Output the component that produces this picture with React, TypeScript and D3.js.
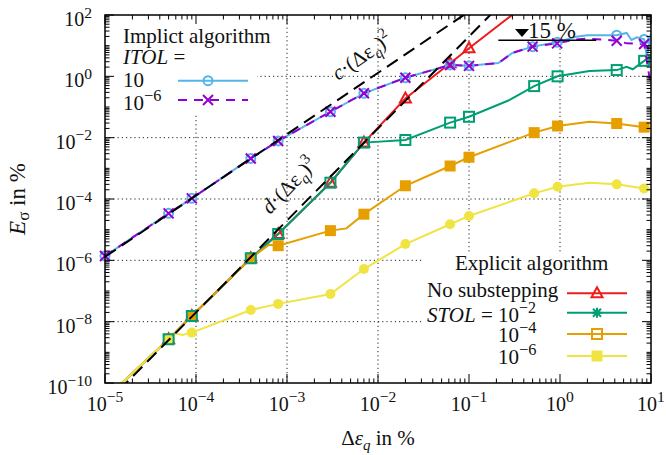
import * as d3 from "d3";

type Row = [number, number, number]; // [Δε_q, E_σ, 1 = marker shown]

// ---- axes -------------------------------------------------------------
const X_TICKS = [1e-5, 1e-4, 1e-3, 1e-2, 1e-1, 1e0, 1e1];
const X_TICK_EXP = ["−5", "−4", "−3", "−2", "−1", "0", "1"];
const Y_TICKS = [1e2, 1e0, 1e-2, 1e-4, 1e-6, 1e-8, 1e-10];
const Y_TICK_EXP = ["2", "0", "−2", "−4", "−6", "−8", "−10"];
const X_GRID = [1e-4, 1e-3, 1e-2, 1e-1, 1e0];
const Y_GRID = [1e0, 1e-2, 1e-4, 1e-6, 1e-8];

// ---- implicit algorithm ------------------------------------------------
const IMPL_ITOL10: Row[] = [
  [1e-5, 1.39e-6, 1], [5e-5, 3.4e-5, 1], [9e-5, 1.05e-4, 1], [4e-4, 2.1e-3, 1],
  [8e-4, 7.8e-3, 1], [3e-3, 0.07, 1], [7e-3, 0.28, 1], [0.02, 0.9, 1],
  [0.062, 2.35, 1], [0.1, 2.2, 1], [0.21, 2.7, 0], [0.3, 5.8, 0],
  [0.5, 9.3, 1], [0.93, 13, 1], [1.5, 19.5, 0], [2.0, 22, 0],
  [4.2, 22, 1], [5.4, 26, 0], [6.1, 15.3, 0], [7.0, 18.7, 0],
  [8.4, 16, 1], [9.0, 4.4, 0], [10, 26, 0],
];
const IMPL_ITOL6: Row[] = [
  [1e-5, 1.39e-6, 1], [5e-5, 3.4e-5, 1], [9e-5, 1.05e-4, 1], [4e-4, 2.1e-3, 1],
  [8e-4, 7.8e-3, 1], [3e-3, 0.07, 1], [7e-3, 0.28, 1], [0.02, 0.9, 1],
  [0.062, 2.35, 1], [0.1, 2.2, 1], [0.21, 2.7, 0], [0.3, 5.8, 0],
  [0.5, 9.3, 1], [0.93, 11.9, 1], [1.5, 16, 0], [2.0, 17, 0],
  [4.2, 14.5, 1], [5.4, 11.9, 0], [8.4, 11.3, 1], [10, 0.45, 0],
];

// ---- explicit algorithm ------------------------------------------------
const EXPL_NOSUB: Row[] = [
  [1e-5, 3e-11, 0], [5e-5, 2.67e-9, 1], [9e-5, 1.53e-8, 1], [4e-4, 1.17e-6, 1],
  [8e-4, 7.2e-6, 1], [3e-3, 3.4e-4, 1], [7e-3, 6.9e-3, 1], [0.02, 0.19, 1],
  [0.062, 2.66, 1], [0.1, 8.2, 1], [0.5, 330, 0],
];
const EXPL_STOL2: Row[] = [
  [1e-5, 3e-11, 0], [5e-5, 2.67e-9, 1], [9e-5, 1.53e-8, 1], [4e-4, 1.17e-6, 1],
  [8e-4, 7.2e-6, 1], [3e-3, 3.4e-4, 1], [7e-3, 6.9e-3, 1], [0.02, 8.4e-3, 1],
  [0.062, 0.031, 1], [0.1, 0.048, 1], [0.28, 0.17, 0], [0.52, 0.48, 1],
  [0.94, 1.0, 1], [2.1, 1.5, 0], [4.2, 1.6, 1], [5.4, 2.06, 0],
  [6.3, 1.7, 0], [8.4, 3.2, 1], [10, 4.4, 0],
];
const EXPL_STOL4: Row[] = [
  [1e-5, 3e-11, 0], [5e-5, 2.67e-9, 1], [9e-5, 1.53e-8, 1], [4e-4, 1.17e-6, 1],
  [6.3e-4, 3.2e-6, 0], [8e-4, 3e-6, 1], [3e-3, 9.3e-6, 1], [4.5e-3, 1.1e-5, 0],
  [7e-3, 3.2e-5, 1], [0.02, 2.7e-4, 1], [0.062, 1.19e-3, 1], [0.1, 2.3e-3, 1],
  [0.52, 0.0146, 1], [0.94, 0.024, 1], [2.1, 0.033, 0], [4.2, 0.029, 1],
  [8.4, 0.022, 1], [10, 0.019, 0],
];
const EXPL_STOL6: Row[] = [
  [1e-5, 3e-11, 0], [5e-5, 2.67e-9, 1], [5.9e-5, 4.2e-9, 0], [7.1e-5, 3.7e-9, 0],
  [9e-5, 4.4e-9, 1], [4e-4, 2.4e-8, 1], [8e-4, 3.8e-8, 1], [3e-3, 8e-8, 1],
  [7e-3, 5.2e-7, 1], [0.02, 3.4e-6, 1], [0.062, 1.5e-5, 1], [0.1, 2.8e-5, 1],
  [0.52, 1.53e-4, 1], [0.94, 2.5e-4, 1], [2.1, 3.4e-4, 0], [4.2, 3.0e-4, 1],
  [8.4, 2.2e-4, 1], [10, 2.0e-4, 0],
];

// fitted slopes (end points)
const C_FIT: [number, number][] = [[1e-5, 1.3e-6], [0.1, 130]];
const D_FIT: [number, number][] = [[1e-5, 2e-11], [0.2, 159]];
// 15 % limit marker
const LIMIT_X = [0.21, 2.5];
const LIMIT_Y = 15;

const BLUE = "#56b4e9";
const PURPLE = "#9400d3";
const RED = "#ee1c1c";
const GREEN = "#009e73";
const ORANGE = "#e69f00";
const YELLOW = "#f0e442";
const FONT = "'Liberation Serif', 'Times New Roman', serif";

const W = 666, H = 455;
const L = 105, R = 651, T = 15, B = 383;

const x = d3.scaleLog().domain([1e-5, 1e1]).range([L, R]);
const y = d3.scaleLog().domain([1e-10, 1e2]).range([B, T]);

const line = d3.line<Row>().x(d => x(d[0])).y(d => y(d[1]));
const fitLine = d3.line<[number, number]>().x(d => x(d[0])).y(d => y(d[1]));

type Kind = "circle" | "cross" | "tri" | "square" | "squareFill" | "dot" | "star";

function Marker({ kind, cx, cy, color }: { kind: Kind; cx: number; cy: number; color: string }) {
  const sw = 2;
  switch (kind) {
    case "circle":
      return <circle cx={cx} cy={cy} r={4.5} fill="none" stroke={color} strokeWidth={sw} />;
    case "cross":
      return (
        <path d={`M${cx - 5},${cy - 5}L${cx + 5},${cy + 5}M${cx - 5},${cy + 5}L${cx + 5},${cy - 5}`}
          stroke={color} strokeWidth={sw} />
      );
    case "star":
      return (
        <path d={`M${cx - 5},${cy}L${cx + 5},${cy}M${cx},${cy - 5}L${cx},${cy + 5}M${cx - 4},${cy - 4}L${cx + 4},${cy + 4}M${cx - 4},${cy + 4}L${cx + 4},${cy - 4}`}
          stroke={color} strokeWidth={sw} />
      );
    case "tri":
      return <path d={`M${cx},${cy - 6}L${cx + 5.5},${cy + 4}L${cx - 5.5},${cy + 4}Z`} fill="none" stroke={color} strokeWidth={sw} />;
    case "square":
      return <rect x={cx - 5} y={cy - 5} width={10} height={10} fill="none" stroke={color} strokeWidth={sw} />;
    case "squareFill":
      return <rect x={cx - 5.5} y={cy - 5.5} width={11} height={11} fill={color} />;
    case "dot":
      return <circle cx={cx} cy={cy} r={5} fill={color} />;
  }
}

function Marks({ data, kind, color }: { data: Row[]; kind: Kind; color: string }) {
  return (
    <g>
      {data.filter(d => d[2] === 1).map((d, i) => (
        <Marker key={i} kind={kind} cx={x(d[0])} cy={y(d[1])} color={color} />
      ))}
    </g>
  );
}

function Pow10({ px, py, exp, anchor = "start", size = 20 }: { px: number; py: number; exp: string; anchor?: string; size?: number }) {
  return (
    <text x={px} y={py} textAnchor={anchor} fontSize={size}>
      10<tspan dy={-size * 0.42} fontSize={size * 0.78}>{exp}</tspan>
    </text>
  );
}

export default function App() {
  const xMinor = d3.range(-5, 1).flatMap(k => d3.range(2, 10).map(m => m * 10 ** k));
  const yMinor = [
    ...d3.range(-10, 2).flatMap(k => d3.range(2, 10).map(m => m * 10 ** k)),
    ...d3.range(-9, 2, 2).map(k => 10 ** k),
  ];

  return (
    <svg width={W} height={H} style={{ position: "absolute", left: 0, top: 0, background: "#fff" }}
      fontFamily={FONT} fill="#111">
      <defs>
        <clipPath id="plot">
          <rect x={L} y={T} width={R - L} height={B - T} />
        </clipPath>
      </defs>

      {/* grid */}
      <g stroke="#222" strokeWidth={1} strokeDasharray="1.2 3">
        {X_GRID.map(v => <line key={v} x1={x(v)} x2={x(v)} y1={T} y2={B} />)}
        {Y_GRID.map(v => <line key={v} x1={L} x2={R} y1={y(v)} y2={y(v)} />)}
      </g>

      {/* opaque key boxes and annotation box */}
      <rect x={L} y={T} width={152} height={98} fill="#fff" />
      <rect x={422} y={252} width={R - 422} height={B - 252} fill="#fff" />
      <rect x={498} y={T} width={100} height={30} fill="#fff" />

      <g clipPath="url(#plot)" fill="none" strokeWidth={2}>
        <path d={line(EXPL_NOSUB)!} stroke={RED} />
        <path d={line(EXPL_STOL2)!} stroke={GREEN} />
        <path d={line(EXPL_STOL4)!} stroke={ORANGE} />
        <path d={line(EXPL_STOL6)!} stroke={YELLOW} />
      </g>
      <Marks data={EXPL_NOSUB} kind="tri" color={RED} />
      <Marks data={EXPL_STOL4} kind="squareFill" color={ORANGE} />
      <Marks data={EXPL_STOL6} kind="dot" color={YELLOW} />
      <Marks data={EXPL_STOL2} kind="square" color={GREEN} />

      <g clipPath="url(#plot)" fill="none" strokeWidth={2}>
        <path d={line(IMPL_ITOL10)!} stroke={BLUE} />
        <path d={line(IMPL_ITOL6)!} stroke={PURPLE} strokeDasharray="9 7" />
      </g>
      <Marks data={IMPL_ITOL10} kind="circle" color={BLUE} />
      <Marks data={IMPL_ITOL6} kind="cross" color={PURPLE} />

      <g clipPath="url(#plot)" fill="none" stroke="#000" strokeWidth={2} strokeDasharray="13 7">
        <path d={fitLine(C_FIT)!} />
        <path d={fitLine(D_FIT)!} />
      </g>

      {/* slope labels */}
      <text transform="translate(338,81) rotate(-35)" fontSize={21}>
        <tspan fontStyle="italic">c</tspan>·(Δε<tspan dy={5} fontSize={15} fontStyle="italic">q</tspan>
        <tspan dy={-5}>)</tspan><tspan dy={-9} fontSize={15}>2</tspan>
      </text>
      <text transform="translate(270,215) rotate(-46)" fontSize={21}>
        <tspan fontStyle="italic">d</tspan>·(Δε<tspan dy={5} fontSize={15} fontStyle="italic">q</tspan>
        <tspan dy={-5}>)</tspan><tspan dy={-9} fontSize={15}>3</tspan>
      </text>

      {/* 15 % limit */}
      <line x1={x(LIMIT_X[0])} x2={x(LIMIT_X[1])} y1={y(LIMIT_Y)} y2={y(LIMIT_Y)} stroke="#000" strokeWidth={1.5} />
      <path d="M515,29L529,29L522,37Z" fill="#000" />
      <text x={528} y={38} fontSize={23}>15 %</text>

      {/* frame and ticks */}
      <rect x={L} y={T} width={R - L} height={B - T} fill="none" stroke="#000" strokeWidth={1.5} />
      <g stroke="#000" strokeWidth={1}>
        {X_TICKS.map(v => (
          <g key={v}>
            <line x1={x(v)} x2={x(v)} y1={B} y2={B - 9} />
            <line x1={x(v)} x2={x(v)} y1={T} y2={T + 9} />
          </g>
        ))}
        {xMinor.map(v => (
          <g key={v}>
            <line x1={x(v)} x2={x(v)} y1={B} y2={B - 4.5} />
            <line x1={x(v)} x2={x(v)} y1={T} y2={T + 4.5} />
          </g>
        ))}
        {Y_TICKS.map(v => (
          <g key={v}>
            <line x1={L} x2={L + 9} y1={y(v)} y2={y(v)} />
            <line x1={R} x2={R - 9} y1={y(v)} y2={y(v)} />
          </g>
        ))}
        {yMinor.map(v => (
          <g key={v}>
            <line x1={L} x2={L + 4.5} y1={y(v)} y2={y(v)} />
            <line x1={R} x2={R - 4.5} y1={y(v)} y2={y(v)} />
          </g>
        ))}
      </g>

      {/* tick labels */}
      {X_TICKS.map((v, i) => (
        <Pow10 key={v} px={x(v)} py={B + 27.5} exp={X_TICK_EXP[i]} anchor="middle" />
      ))}
      {Y_TICKS.map((v, i) => (
        <Pow10 key={v} px={92} py={y(v) + 11} exp={Y_TICK_EXP[i]} anchor="end" />
      ))}

      {/* axis titles */}
      <text x={(L + R) / 2} y={445} textAnchor="middle" fontSize={21}>
        Δ<tspan fontStyle="italic">ε</tspan><tspan dy={5} fontSize={15} fontStyle="italic">q</tspan>
        <tspan dy={-5}> in %</tspan>
      </text>
      <text transform={`translate(25,${(T + B) / 2}) rotate(-90)`} textAnchor="middle" fontSize={23}>
        <tspan fontStyle="italic">E</tspan><tspan dy={4} fontSize={17}>σ</tspan>
        <tspan dy={-4}> in %</tspan>
      </text>

      {/* implicit key */}
      <g fontSize={21}>
        <text x={123} y={43}>Implict algorithm</text>
        <text x={123} y={64}><tspan fontStyle="italic">ITOL</tspan> =</text>
        <text x={123} y={87}>10</text>
        <Pow10 px={123} py={110} exp="−6" size={21} />
      </g>
      <line x1={178} x2={248} y1={80.7} y2={80.7} stroke={BLUE} strokeWidth={2} />
      <Marker kind="circle" cx={208} cy={80.7} color={BLUE} />
      <line x1={178} x2={248} y1={100} y2={100} stroke={PURPLE} strokeWidth={2} strokeDasharray="9 7" />
      <Marker kind="cross" cx={208} cy={100} color={PURPLE} />

      {/* explicit key */}
      <g fontSize={21}>
        <text x={455} y={270}>Explicit algorithm</text>
        <text x={427} y={297}>No substepping</text>
        <text x={427} y={322}><tspan fontStyle="italic">STOL</tspan> = 10<tspan dy={-9} fontSize={16}>−2</tspan></text>
        <Pow10 px={498} py={342} exp="−4" size={21} />
        <Pow10 px={498} py={364} exp="−6" size={21} />
      </g>
      {[
        { yy: 293.3, c: RED, k: "tri" as Kind },
        { yy: 312.7, c: GREEN, k: "star" as Kind },
        { yy: 334, c: ORANGE, k: "square" as Kind },
        { yy: 356, c: YELLOW, k: "squareFill" as Kind },
      ].map(e => (
        <g key={e.c}>
          <line x1={567} x2={627} y1={e.yy} y2={e.yy} stroke={e.c} strokeWidth={2} />
          <Marker kind={e.k} cx={597} cy={e.yy} color={e.c} />
        </g>
      ))}
    </svg>
  );
}
